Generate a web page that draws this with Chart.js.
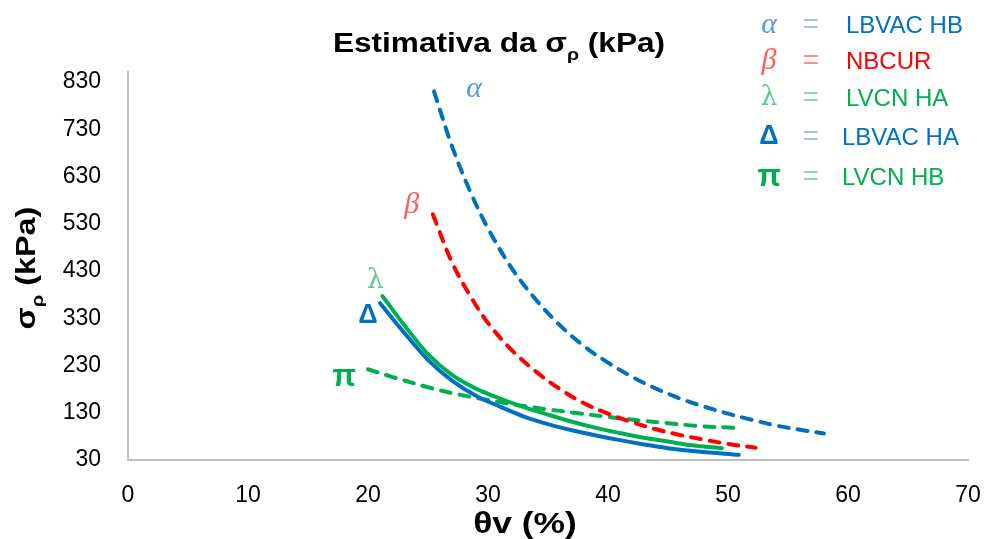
<!DOCTYPE html>
<html>
<head>
<meta charset="utf-8">
<script src="https://cdn.jsdelivr.net/npm/chart.js@4.4.1/dist/chart.umd.min.js"></script>
<style>
  html, body { margin: 0; padding: 0; background: #fff; overflow: hidden; }
  #wrap { width: 988px; height: 539px; position: relative; }
  canvas { display: block; }
</style>
</head>
<body>
<div id="wrap"><canvas id="chart"></canvas></div>
<script>
// series names and the symbols used for each curve
const seriesNames = ['LBVAC HB', 'NBCUR', 'LVCN HA', 'LBVAC HA', 'LVCN HB'];
const seriesSymbols = ['α', 'β', 'λ', 'Δ', 'π'];

// θv (%) and σρ (kPa)
const thetaAlpha = [25.5, 27, 28.5, 30, 32, 34, 36, 38, 40, 42, 44, 46, 48, 50, 52, 54, 56, 58];
const sigmaAlpha = [810, 694, 599, 520, 435, 369, 315, 271, 236, 206, 181, 160, 143, 128, 115, 103, 94, 86];

const thetaBeta = [25.4, 27, 28.5, 30, 32, 34, 36, 38, 40, 42, 44, 46, 48, 50, 52.3];
const sigmaBeta = [550, 448, 378, 320, 262, 217, 180, 150, 128, 110, 95, 83, 73, 64, 56];

const thetaLambda = [21.2, 23, 25, 27, 29, 31, 33, 35, 37, 39, 41, 43, 45, 47, 49.5];
const sigmaLambda = [377, 316, 254, 210, 181, 160, 142, 126, 111, 98, 87, 77, 69, 61, 55];

const thetaDelta = [21, 22.7, 25, 27, 29, 31, 33, 35, 37, 39, 41, 43, 45, 47.5, 50.9];
const sigmaDelta = [362, 309, 242, 198, 166, 143, 122, 106, 93, 82, 72, 63, 55, 48, 41];

const thetaPi = [20, 22, 25, 27.5, 30, 32.5, 35, 37.5, 40, 42.5, 45, 47.5, 50.5];
const sigmaPi = [222, 206, 184, 169, 157, 146, 137, 129, 121, 114, 108, 102, 98];

const xTicks = [0, 10, 20, 30, 40, 50, 60, 70];
const yTicks = [30, 130, 230, 330, 430, 530, 630, 730, 830];

const BLUE = '#0070C0', RED = '#FF0000', GREEN = '#00B050';

function pts(xs, ys) {
    return xs.map((x, i) => ({ x: x, y: ys[i] }));
}

function line(label, xs, ys, color, dashed) {
    return {
        label: label,
        data: pts(xs, ys),
        showLine: true,
        borderColor: color,
        backgroundColor: color,
        borderWidth: 4,
        borderDash: dashed ? [10, 9] : [],
        borderCapStyle: 'round',
        pointRadius: 0,
        tension: 0.35
    };
}

// draw bold text made of pieces, some subscript, stretched a little in x like the original
function richText(ctx, parts, x, y, size, stretch) {
    ctx.save();
    ctx.fillStyle = '#000';
    ctx.textBaseline = 'alphabetic';
    ctx.translate(x, y);
    ctx.scale(stretch, 1);
    let widths = parts.map(p => {
        ctx.font = 'bold ' + (p.sub ? size * 0.62 : size) + 'px "Liberation Sans", Arial, sans-serif';
        return ctx.measureText(p.t).width;
    });
    let total = widths.reduce((a, b) => a + b, 0);
    let cx = -total / 2;
    parts.forEach((p, i) => {
        ctx.font = 'bold ' + (p.sub ? size * 0.62 : size) + 'px "Liberation Sans", Arial, sans-serif';
        ctx.fillText(p.t, cx, p.sub ? size * 0.3 : 0);
        cx += widths[i];
    });
    ctx.restore();
}

const annotations = {
    id: 'annotations',
    afterDraw(chart) {
        const ctx = chart.ctx;
        const xs = chart.scales.x, ys = chart.scales.y;

        // titles
        richText(ctx, [{ t: 'Estimativa da σ' }, { t: 'ρ', sub: true }, { t: ' (kPa)' }], 499, 52, 27, 1.17);
        richText(ctx, [{ t: 'θv (%)' }], 525, 533, 30, 1.18);
        ctx.save();
        ctx.translate(35, 268);
        ctx.rotate(-Math.PI / 2);
        richText(ctx, [{ t: 'σ' }, { t: 'ρ', sub: true }, { t: ' (kPa)' }], 0, 0, 27, 1.2);
        ctx.restore();

        // symbols next to the curves
        const labelFonts = [
            'italic 30px "Liberation Serif", serif',
            'italic 30px "Liberation Serif", serif',
            '27px "DejaVu Serif", serif',
            'bold 27px "Liberation Sans", Arial, sans-serif',
            'bold 31px "Liberation Sans", Arial, sans-serif'
        ];
        const labelColors = ['#5B9BD5', '#FF5B5B', '#5FCB8F', BLUE, GREEN];
        const offsets = [[40, -2], [-21, -9], [-7, -15], [-12, 12], [-24, 8]];
        ctx.save();
        ctx.textAlign = 'center';
        ctx.textBaseline = 'middle';
        chart.data.datasets.forEach((ds, i) => {
            const p = ds.data[0];
            ctx.font = labelFonts[i];
            ctx.fillStyle = labelColors[i];
            ctx.fillText(seriesSymbols[i], xs.getPixelForValue(p.x) + offsets[i][0], ys.getPixelForValue(p.y) + offsets[i][1]);
        });

        // legend block top right
        const eqColors = ['#9DC3E6', '#FF8C8C', '#86DBAE', '#9DC3E6', '#86DBAE'];
        const rowY = [25, 61, 98, 137, 177];
        seriesNames.forEach((name, i) => {
            ctx.textAlign = 'center';
            ctx.font = labelFonts[i];
            ctx.fillStyle = labelColors[i];
            ctx.fillText(seriesSymbols[i], 769, rowY[i]);
            ctx.font = '28px "Liberation Sans", Arial, sans-serif';
            ctx.fillStyle = eqColors[i];
            ctx.fillText('=', 811, rowY[i]);
            ctx.textAlign = 'left';
            ctx.font = '24px "Liberation Sans", Arial, sans-serif';
            ctx.fillStyle = chart.data.datasets[i].borderColor;
            ctx.fillText(name, i < 3 ? 846 : 842, rowY[i] + 1);
        });
        ctx.restore();
    }
};

new Chart(document.getElementById('chart'), {
    type: 'scatter',
    data: {
        datasets: [
            line(seriesNames[0], thetaAlpha, sigmaAlpha, BLUE, true),
            line(seriesNames[1], thetaBeta, sigmaBeta, RED, true),
            line(seriesNames[2], thetaLambda, sigmaLambda, GREEN, false),
            line(seriesNames[3], thetaDelta, sigmaDelta, BLUE, false),
            line(seriesNames[4], thetaPi, sigmaPi, GREEN, true)
        ]
    },
    options: {
        responsive: true,
        maintainAspectRatio: false,
        animation: false,
        layout: { padding: { top: 72, right: 20, left: 0, bottom: 0 } },
        plugins: { legend: { display: false }, tooltip: { enabled: false } },
        scales: {
            x: {
                type: 'linear',
                min: 0,
                max: 70,
                afterBuildTicks: axis => { axis.ticks = xTicks.map(v => ({ value: v })); },
                afterFit: axis => { axis.height = 79; axis.paddingRight = 0; axis.paddingLeft = 0; },
                grid: { display: false, drawTicks: false },
                border: { display: true, color: '#BFBFBF', width: 2 },
                ticks: { color: '#000', padding: 22, font: { family: '"Liberation Sans", Arial', size: 23 } }
            },
            y: {
                type: 'linear',
                min: 30,
                max: 851,
                afterBuildTicks: axis => { axis.ticks = yTicks.map(v => ({ value: v })); },
                afterFit: axis => { axis.width = 128; axis.paddingTop = 0; axis.paddingBottom = 0; },
                grid: { display: false, drawTicks: false },
                border: { display: true, color: '#BFBFBF', width: 2 },
                ticks: { color: '#000', padding: 27, font: { family: '"Liberation Sans", Arial', size: 23 } }
            }
        }
    },
    plugins: [annotations]
});
</script>
</body>
</html>
